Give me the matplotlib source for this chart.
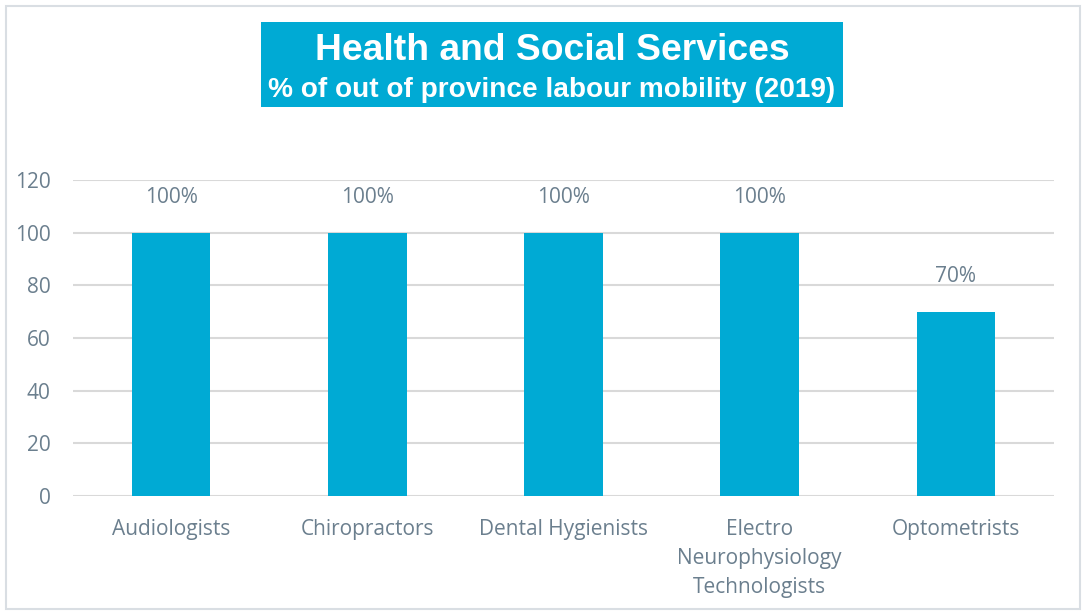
import matplotlib
matplotlib.use("Agg")
import matplotlib.pyplot as plt
from matplotlib.patches import Rectangle

categories = ["Audiologists", "Chiropractors", "Dental Hygienists",
              "Electro\nNeurophysiology\nTechnologists", "Optometrists"]
values = [100, 100, 100, 100, 70]
value_labels = ["100%", "100%", "100%", "100%", "70%"]
yticks = [0, 20, 40, 60, 80, 100, 120]

bar_color = "#00AAD4"
text_color = "#6B7F8E"
grid_color = "#D9D9D9"

fig = plt.figure(figsize=(10.84, 6.11), dpi=100)
W, H = 1084, 611
ax = fig.add_axes([73 / W, 1 - 496 / H, (1054 - 73) / W, (496 - 180) / H])

x = list(range(len(categories)))
ax.bar(x, values, width=0.4, color=bar_color, zorder=3)
ax.set_xlim(-0.5, len(categories) - 0.5)
ax.set_ylim(0, 120)
ax.set_yticks(yticks)
ax.set_xticks(x)
ax.set_xticklabels(categories, fontfamily="Open Sans", fontsize=15,
                   color=text_color, linespacing=1.5)
ax.tick_params(axis="both", length=0)
ax.tick_params(axis="x", pad=16.5)
ax.tick_params(axis="y", pad=16)
for lab in ax.get_yticklabels():
    lab.set_fontfamily("Open Sans")
    lab.set_fontsize(15)
    lab.set_color(text_color)
ax.grid(axis="y", color=grid_color, linewidth=1.5, zorder=0)
for s in ax.spines.values():
    s.set_visible(False)

for xi, v, lab in zip(x, values, value_labels):
    ax.annotate(lab, (xi, v), xytext=(0, 18), textcoords="offset points",
                ha="center", va="bottom", fontfamily="Open Sans",
                fontsize=15, color=text_color)

# figure border
fig.patches.append(Rectangle((6 / W, 2 / H), 1 - 10 / W, 1 - 8 / H,
                             transform=fig.transFigure, fill=False,
                             edgecolor="#D9DEE3", linewidth=1.5))

# title box
fig.patches.append(Rectangle((261 / W, 1 - 107 / H), (843 - 261) / W, (107 - 22) / H,
                             transform=fig.transFigure, facecolor=bar_color,
                             edgecolor="none"))
fig.text(552 / W, 1 - 51 / H, "Health and Social Services", ha="center", va="center",
         fontfamily="Liberation Sans", fontweight="bold", fontsize=26.8, color="white")
fig.text(552 / W, 1 - 90 / H, "% of out of province labour mobility (2019)",
         ha="center", va="center", fontfamily="Liberation Sans", fontweight="bold",
         fontsize=20.2, color="white")

fig.savefig("out.png", dpi=100)
